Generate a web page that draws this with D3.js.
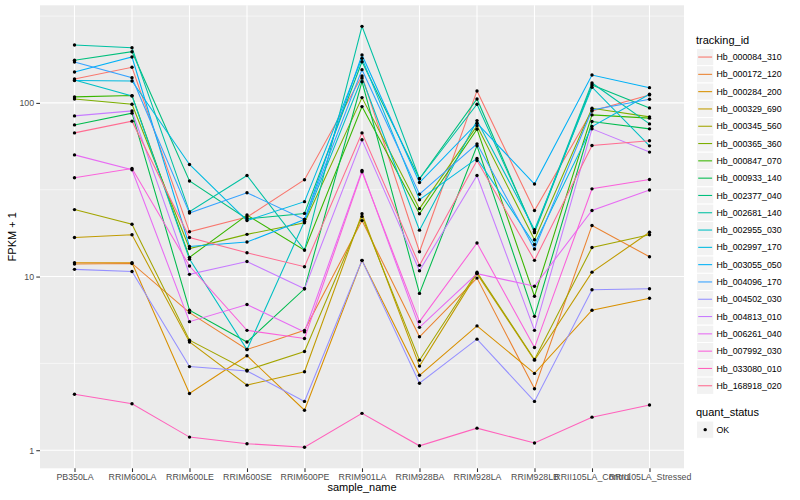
<!DOCTYPE html>
<html>
<head>
<meta charset="utf-8">
<script src="https://cdn.jsdelivr.net/npm/d3@7"></script>
<style>
    body { margin: 0; background: #fff; }
    svg text { font-family: "Liberation Sans", Arial, Helvetica, sans-serif; }
</style>
</head>
<body>
<svg id="chart" width="800" height="500"></svg>
<script>
// Samples on the x axis
const sampleNames = ['PB350LA', 'RRIM600LA', 'RRIM600LE', 'RRIM600SE', 'RRIM600PE', 'RRIM901LA',
    'RRIM928BA', 'RRIM928LA', 'RRIM928LB', 'RRII105LA_Control', 'RRII105LA_Stressed'];

// Series ids (legend order)
const trackingIds = ['Hb_000084_310', 'Hb_000172_120', 'Hb_000284_200', 'Hb_000329_690', 'Hb_000345_560',
    'Hb_000365_360', 'Hb_000847_070', 'Hb_000933_140', 'Hb_002377_040', 'Hb_002681_140',
    'Hb_002955_030', 'Hb_002997_170', 'Hb_003055_050', 'Hb_004096_170', 'Hb_004502_030',
    'Hb_004813_010', 'Hb_006261_040', 'Hb_007992_030', 'Hb_033080_010', 'Hb_168918_020'];

// FPKM + 1 per sample
const hb_000084_310 = [137.4, 160.4, 18.1, 22.0, 36.1, 142.9, 13.9, 117.2, 24.0, 89.9, 111.2];
const hb_000172_120 = [11.8, 11.9, 6.2, 3.8, 4.9, 21.0, 4.5, 9.8, 2.26, 19.7, 13.0];
const hb_000284_200 = [12.0, 12.0, 2.12, 3.5, 1.70, 12.4, 2.70, 5.2, 2.77, 6.4, 7.5];
const hb_000329_690 = [16.8, 17.4, 4.2, 2.37, 2.83, 23.0, 3.05, 10.4, 3.3, 10.6, 18.0];
const hb_000345_560 = [24.3, 20.0, 4.3, 2.89, 3.7, 22.2, 3.30, 10.6, 3.33, 14.7, 17.4];
const hb_000365_360 = [105.4, 98.3, 14.5, 17.5, 20.4, 107.3, 24.6, 73.8, 16.3, 93.2, 83.1];
const hb_000847_070 = [108.3, 110.2, 12.9, 22.6, 14.2, 95.2, 23.0, 70.6, 7.7, 85.3, 81.7];
const hb_000933_140 = [74.7, 87.3, 6.4, 4.2, 8.5, 132.6, 8.0, 56.6, 5.9, 78.1, 70.9];
const hb_002377_040 = [176.0, 197.2, 35.5, 21.5, 23.1, 172.7, 36.6, 105.4, 17.9, 126.9, 93.6];
const hb_002681_140 = [215.4, 207.9, 23.6, 38.2, 14.2, 276.0, 36.6, 98.3, 18.2, 130.3, 75.7];
const hb_002955_030 = [135.6, 109.7, 12.6, 3.8, 20.8, 139.2, 18.5, 79.1, 18.6, 123.1, 56.6];
const hb_002997_170 = [134.5, 133.8, 44.2, 21.0, 27.0, 180.6, 27.7, 47.9, 15.3, 73.1, 112.2];
const hb_003055_050 = [150.7, 183.8, 14.9, 15.8, 21.3, 188.7, 34.8, 76.4, 34.1, 144.8, 122.4];
const hb_004096_170 = [172.0, 139.7, 23.2, 30.4, 21.3, 155.4, 29.8, 58.1, 14.4, 91.1, 105.0];
const hb_004502_030 = [11.0, 10.7, 3.03, 2.86, 1.91, 12.4, 2.43, 4.36, 1.91, 8.4, 8.5];
const hb_004813_010 = [84.2, 89.9, 10.3, 12.2, 8.5, 61.3, 10.8, 38.2, 4.9, 70.9, 52.1];
const hb_006261_040 = [50.2, 41.2, 5.5, 6.9, 4.8, 40.8, 5.1, 10.4, 8.8, 24.0, 31.5];
const hb_007992_030 = [37.1, 41.9, 11.5, 4.9, 4.4, 40.1, 5.5, 15.6, 3.9, 32.0, 36.2];
const hb_033080_010 = [2.10, 1.85, 1.19, 1.09, 1.04, 1.63, 1.06, 1.34, 1.10, 1.55, 1.82];
const hb_168918_020 = [67.2, 78.5, 16.8, 13.7, 11.4, 67.2, 11.6, 46.6, 12.4, 56.8, 60.5];

const seriesValues = [hb_000084_310, hb_000172_120, hb_000284_200, hb_000329_690, hb_000345_560,
    hb_000365_360, hb_000847_070, hb_000933_140, hb_002377_040, hb_002681_140,
    hb_002955_030, hb_002997_170, hb_003055_050, hb_004096_170, hb_004502_030,
    hb_004813_010, hb_006261_040, hb_007992_030, hb_033080_010, hb_168918_020];

const yTicks = [1, 10, 100];
const quantStatus = ['OK'];

// ggplot hue palette, 20 levels
const palette = ['#F8766D', '#EA8331', '#D89000', '#C09B00', '#A3A500', '#7CAE00', '#39B600', '#00BB4E',
    '#00BF7D', '#00C1A3', '#00BFC4', '#00BAE0', '#00B0F6', '#35A2FF', '#9590FF', '#C77CFF',
    '#E76BF3', '#FA62DB', '#FF62BC', '#FF6C91'];

const series = trackingIds.map((id, i) => ({
    id: id,
    values: seriesValues[i].map((v, j) => ({ sample: sampleNames[j], value: v }))
}));

// Layout
const panel = { left: 40, right: 684, top: 5.3, bottom: 468.3 };
const svg = d3.select('#chart');

// Scales
const x = d3.scalePoint()
    .domain(sampleNames)
    .range([panel.left, panel.right])
    .padding(0.6);

const allValues = seriesValues.flat();
const logMin = Math.log10(d3.min(allValues));
const logMax = Math.log10(d3.max(allValues));
const pad = (logMax - logMin) * 0.05;
const y = d3.scaleLog()
    .domain([Math.pow(10, logMin - pad), Math.pow(10, logMax + pad)])
    .range([panel.bottom, panel.top]);

const color = d3.scaleOrdinal().domain(trackingIds).range(palette);

// Panel background
svg.append('rect')
    .attr('x', panel.left)
    .attr('y', panel.top)
    .attr('width', panel.right - panel.left)
    .attr('height', panel.bottom - panel.top)
    .attr('fill', '#EBEBEB');

// Minor grid (half decades in log space)
const minorTicks = [-0.5, 0.5, 1.5, 2.5].map(e => Math.pow(10, e))
    .filter(v => v > y.domain()[0] && v < y.domain()[1]);
svg.append('g')
    .selectAll('line')
    .data(minorTicks)
    .enter()
    .append('line')
    .attr('x1', panel.left)
    .attr('x2', panel.right)
    .attr('y1', d => y(d))
    .attr('y2', d => y(d))
    .attr('stroke', '#fff')
    .attr('stroke-width', 0.55);

// Major grid
svg.append('g')
    .selectAll('line')
    .data(yTicks)
    .enter()
    .append('line')
    .attr('x1', panel.left)
    .attr('x2', panel.right)
    .attr('y1', d => y(d))
    .attr('y2', d => y(d))
    .attr('stroke', '#fff')
    .attr('stroke-width', 1.1);

svg.append('g')
    .selectAll('line')
    .data(sampleNames)
    .enter()
    .append('line')
    .attr('x1', d => x(d))
    .attr('x2', d => x(d))
    .attr('y1', panel.top)
    .attr('y2', panel.bottom)
    .attr('stroke', '#fff')
    .attr('stroke-width', 1.1);

// Lines
const line = d3.line()
    .x(d => x(d.sample))
    .y(d => y(d.value));

svg.append('g')
    .selectAll('path')
    .data(series)
    .enter()
    .append('path')
    .attr('d', d => line(d.values))
    .attr('fill', 'none')
    .attr('stroke', d => color(d.id))
    .attr('stroke-width', 1.07);

// Points
svg.append('g')
    .selectAll('circle')
    .data(series.flatMap(s => s.values))
    .enter()
    .append('circle')
    .attr('cx', d => x(d.sample))
    .attr('cy', d => y(d.value))
    .attr('r', 1.7)
    .attr('fill', '#000');

// Axes
const yAxis = svg.append('g')
    .attr('transform', `translate(${panel.left},0)`)
    .call(d3.axisLeft(y).tickValues(yTicks).tickFormat(d3.format('d')).tickSize(3.7).tickPadding(2.2));

const xAxis = svg.append('g')
    .attr('transform', `translate(0,${panel.bottom})`)
    .call(d3.axisBottom(x).tickSize(3.7).tickPadding(2.2));

[xAxis, yAxis].forEach(ax => {
    ax.select('.domain').remove();
    ax.selectAll('.tick line').attr('stroke', '#333333').attr('stroke-width', 1.07);
    ax.selectAll('.tick text')
        .attr('fill', '#4D4D4D')
        .style('font-size', '8.8px');
});

// Axis titles
svg.append('text')
    .attr('x', (panel.left + panel.right) / 2)
    .attr('y', 491)
    .attr('text-anchor', 'middle')
    .style('font-size', '11px')
    .text('sample_name');

svg.append('text')
    .attr('transform', `translate(16,${(panel.top + panel.bottom) / 2}) rotate(-90)`)
    .attr('text-anchor', 'middle')
    .style('font-size', '11px')
    .text('FPKM + 1');

// Legend: tracking_id
const legend = svg.append('g').attr('transform', 'translate(696,0)');
const keySize = 17.3;
const keyTop = 48.4;

legend.append('text')
    .attr('x', 0)
    .attr('y', 44)
    .style('font-size', '11px')
    .text('tracking_id');

const keys = legend.selectAll('g.key')
    .data(trackingIds)
    .enter()
    .append('g')
    .attr('class', 'key')
    .attr('transform', (d, i) => `translate(0,${keyTop + i * keySize})`);

keys.append('rect')
    .attr('x', 0.5)
    .attr('y', 0)
    .attr('width', keySize)
    .attr('height', keySize)
    .attr('fill', '#F2F2F2')
    .attr('stroke', '#fff');

keys.append('line')
    .attr('x1', 2.2)
    .attr('x2', keySize - 1.2)
    .attr('y1', keySize / 2)
    .attr('y2', keySize / 2)
    .attr('stroke', d => color(d))
    .attr('stroke-width', 1.07);

keys.append('text')
    .attr('x', 20.5)
    .attr('y', keySize / 2 + 3.1)
    .style('font-size', '8.8px')
    .text(d => d);

// Legend: quant_status
const legend2 = svg.append('g').attr('transform', 'translate(696,0)');
legend2.append('text')
    .attr('x', 0)
    .attr('y', 416)
    .style('font-size', '11px')
    .text('quant_status');

const keys2 = legend2.selectAll('g.key')
    .data(quantStatus)
    .enter()
    .append('g')
    .attr('class', 'key')
    .attr('transform', (d, i) => `translate(0,${421 + i * keySize})`);

keys2.append('rect')
    .attr('x', 0.5)
    .attr('y', 0)
    .attr('width', keySize)
    .attr('height', keySize)
    .attr('fill', '#F2F2F2')
    .attr('stroke', '#fff');

keys2.append('circle')
    .attr('cx', 9.2)
    .attr('cy', keySize / 2)
    .attr('r', 1.7)
    .attr('fill', '#000');

keys2.append('text')
    .attr('x', 20.5)
    .attr('y', keySize / 2 + 3.1)
    .style('font-size', '8.8px')
    .text(d => d);
</script>
</body>
</html>
